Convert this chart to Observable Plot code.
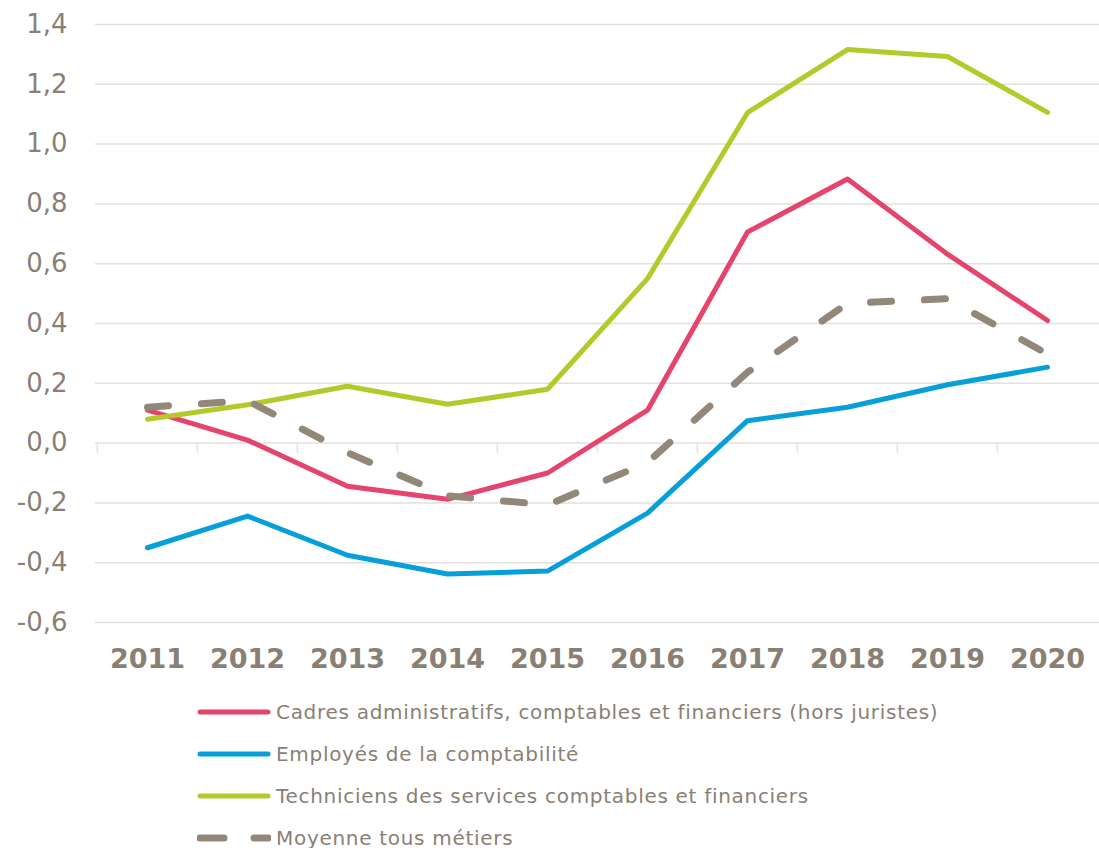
<!DOCTYPE html>
<html>
<head>
<meta charset="utf-8">
<script src="https://cdn.jsdelivr.net/npm/d3@7"></script>
<script src="https://cdn.jsdelivr.net/npm/@observablehq/plot@0.6"></script>
<style>
  html, body { margin: 0; padding: 0; background: #fff; }
  body { width: 1099px; height: 848px; overflow: hidden; font-family: "DejaVu Sans", Verdana, sans-serif; }
  #legend { position: absolute; left: 197px; top: 691px; }
  .item { display: flex; align-items: center; height: 42px; color: #8a7f75; font-size: 20px; letter-spacing: 0.7px; }
  .item svg { margin-right: 5px; }
</style>
</head>
<body>
<div id="chart"></div>
<div id="legend"></div>
<script>
const years = ["2011","2012","2013","2014","2015","2016","2017","2018","2019","2020"];
const seriesNames = [
  "Cadres administratifs, comptables et financiers (hors juristes)",
  "Employés de la comptabilité",
  "Techniciens des services comptables et financiers",
  "Moyenne tous métiers"
];
const cadres      = [0.11, 0.01, -0.144, -0.188, -0.10, 0.11, 0.706, 0.883, 0.632, 0.41];
const employes    = [-0.35, -0.244, -0.375, -0.438, -0.428, -0.234, 0.075, 0.12, 0.195, 0.254];
const techniciens = [0.08, 0.128, 0.19, 0.13, 0.18, 0.55, 1.105, 1.316, 1.293, 1.106];
const moyenne     = [0.12, 0.142, -0.032, -0.176, -0.207, -0.065, 0.237, 0.467, 0.483, 0.298];
const yTicks = [-0.6, -0.4, -0.2, 0, 0.2, 0.4, 0.6, 0.8, 1.0, 1.2, 1.4];
const colors = ["#e5446d", "#079fd9", "#b4c92a", "#928779"];

const allSeries = [cadres, employes, techniciens, moyenne];
const rows = allSeries.flatMap((vals, s) => vals.map((v, i) => ({year: years[i], value: v, series: seriesNames[s]})));
const solid = rows.filter(d => d.series !== seriesNames[3]);
const dashed = rows.filter(d => d.series === seriesNames[3]);

const textColor = "#8a7f75";
const gridColor = "#e3dfdb";
const W = 1099, mL = 95, mR = 0;
const step = (W - mL - mR) / years.length;

const fmt = d => d3.format(".1f")(d).replace(".", ",").replace("−", "-");

const chart = Plot.plot({
  width: W,
  height: 690,
  marginLeft: mL,
  marginRight: mR,
  marginTop: 24,
  marginBottom: 68,
  style: {fontFamily: "'DejaVu Sans', Verdana, sans-serif", color: textColor, background: "#fff"},
  x: {type: "point", domain: years, padding: 0.5, label: null},
  y: {domain: [-0.6, 1.4], label: null},
  color: {domain: seriesNames, range: colors},
  marks: [
    Plot.ruleY(yTicks, {stroke: gridColor, strokeWidth: 1.5}),
    Plot.ruleX(years, {x: d => d, y1: 0, y2: 0, dx: -step / 2, insetBottom: -10, stroke: gridColor, strokeWidth: 1.5}),
    Plot.axisY(yTicks, {tickSize: 0, tickPadding: 28, tickFormat: fmt, fontSize: 26, fill: textColor, label: null}),
    Plot.axisX(years, {tickSize: 0, tickPadding: 26, fontSize: 27, fontWeight: "bold", fill: textColor, label: null}),
    Plot.line(solid, {x: "year", y: "value", z: "series", stroke: "series", strokeWidth: 5, strokeLinejoin: "round", strokeLinecap: "round"}),
    Plot.line(dashed, {x: "year", y: "value", stroke: colors[3], strokeWidth: 7, strokeDasharray: "21,33", strokeLinecap: "round", strokeLinejoin: "round"})
  ]
});
document.getElementById("chart").appendChild(chart);

const legend = document.getElementById("legend");
seriesNames.forEach((name, i) => {
  const item = document.createElement("div");
  item.className = "item";
  const dash = i === 3;
  item.innerHTML = `<svg width="74" height="12"><line x1="3" y1="6" x2="71" y2="6" stroke="${colors[i]}" stroke-width="${dash ? 7 : 5}" stroke-linecap="round" ${dash ? 'stroke-dasharray="24,30"' : ''}/></svg><span>${name}</span>`;
  legend.appendChild(item);
});
</script>
</body>
</html>
